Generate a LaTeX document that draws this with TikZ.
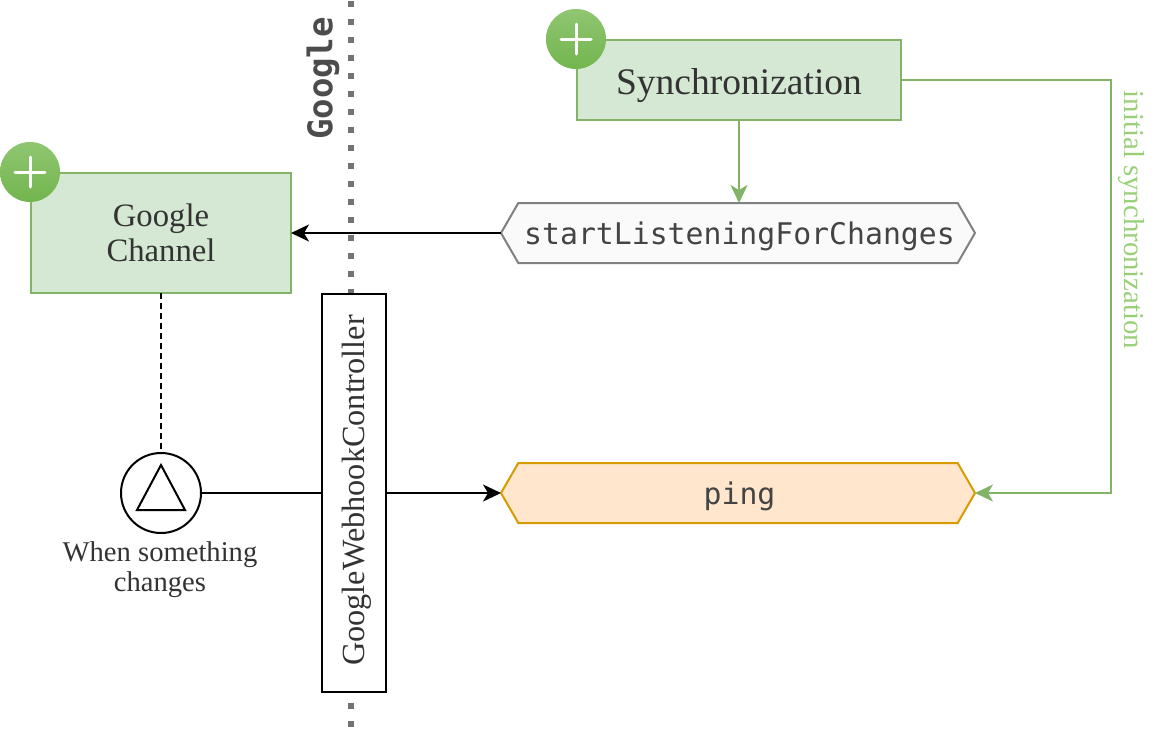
\documentclass[tikz,border=0pt]{standalone}
\usepackage{fontspec}
\setmainfont{Liberation Serif}
\setmonofont{DejaVu Sans Mono}
\usetikzlibrary{arrows.meta,shapes.symbols,positioning}
\definecolor{inkgray}{HTML}{333333}
\definecolor{monogray}{HTML}{444444}
\definecolor{boxgreen}{HTML}{D5E8D4}
\definecolor{linegreen}{HTML}{82B366}
\definecolor{labelgreen}{HTML}{97D077}
\definecolor{plustop}{HTML}{90C671}
\definecolor{plusbottom}{HTML}{72B54E}
\definecolor{pingline}{HTML}{D79B00}
\definecolor{pingfill}{HTML}{FFE6CC}
\newcommand{\fsz}[2]{\fontsize{#1}{#2}\selectfont}
\tikzset{
  subbox/.style={draw=linegreen,fill=boxgreen,line width=2pt,text=inkgray,align=center,inner sep=0pt,outer sep=0pt},
  plusbadge/.style={circle,minimum size=60pt,inner sep=0pt,top color=plustop,bottom color=plusbottom,
    path picture={\draw[white,line width=3pt,line cap=round]
      ([xshift=-15pt]path picture bounding box.center) -- ([xshift=15pt]path picture bounding box.center)
      ([yshift=-15pt]path picture bounding box.center) -- ([yshift=15pt]path picture bounding box.center);}},
  hexbox/.style={signal,signal to=east and west,signal pointer angle=120,minimum width=474pt,minimum height=60pt,
    inner sep=0pt,outer sep=0pt,line width=2pt,font=\ttfamily\fsz{29.8}{30},text=monogray,text height=22pt,text depth=0pt,
    execute at begin node=\hspace*{3pt}},
  arr/.style={-{Stealth[length=18pt,width=17pt,inset=5pt]},line width=2pt},
  garr/.style={arr,draw=linegreen}
}
\begin{document}
\begin{tikzpicture}[x=1pt,y=-1pt]
  \useasboundingbox (0,0) rectangle (1162,732);
  % lane border
  \coordinate (laneTop) at (351,1);
  \coordinate (laneEnd) at (351,728);
  \draw[draw=black!55,line width=6pt,dash pattern=on 6pt off 12pt] (laneTop) -- (laneEnd);
  \node[rotate=90,font=\ttfamily\bfseries\fsz{34}{34},text=black!70] (lane) at (323,78.5) {Google};
  % nodes
  \node[subbox,minimum width=324pt,minimum height=80pt,font=\fsz{37.5}{38},text height=28pt,text depth=0pt] (sync) at (739,80) {Synchronization};
  \node[plusbadge] (syncPlus) at (576,39) {};
  \node[subbox,minimum width=260pt,minimum height=120pt,font=\fsz{32.7}{35}] (channel) at (161,233) {Google\\Channel};
  \node[plusbadge] (channelPlus) at (30,172) {};
  \node[hexbox,draw=black!50,fill=black!2] (start) at (738,233) {startListeningForChanges};
  \node[hexbox,draw=pingline,fill=pingfill] (ping) at (738,493) {ping};
  \node[circle,draw,line width=2pt,minimum size=80pt,inner sep=0pt,outer sep=0pt] (event) at (161,493) {};
  \draw[line width=2pt] (event)+(0,-28) -- +(-24,17) -- +(24,17) -- cycle;
  \node[font=\fsz{28.6}{30},text=inkgray,align=center,below=5pt of event,xshift=-1pt] (eventLabel) {When something\\changes};
  % connectors
  \draw[garr] (sync.south) -- (sync.south |- start.north);
  \draw[garr] (sync.east) -- ++(210,0) |- (ping.east);
  \node[rotate=-90,font=\fsz{28.8}{29},text=labelgreen] (syncLabel) at (1131,220) {initial synchronization};
  \draw[arr] (start.west) -- (channel.east);
  \draw[dashed,line width=2pt,dash pattern=on 6pt off 4pt] (channel) -- (event);
  \draw[arr] (event) -- (ping.west);
  \node[draw,fill=white,line width=2pt,minimum width=64pt,minimum height=398pt,inner sep=0pt] (webhook) at (354,493) {};
  \node[rotate=90,font=\fsz{32.3}{33},text=inkgray] (webhookLabel) at (357,490.5) {GoogleWebhookController};
\end{tikzpicture}
\end{document}
